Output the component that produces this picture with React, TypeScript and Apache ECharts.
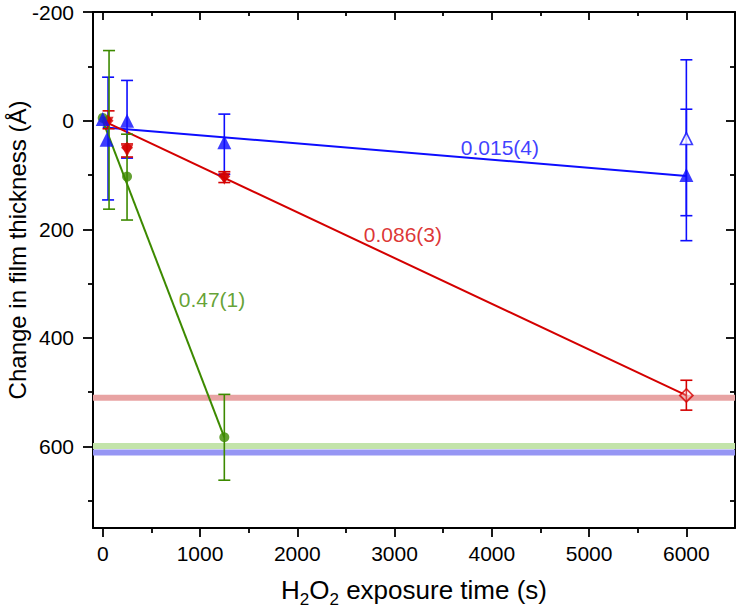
import React, { useEffect, useRef } from "react";
import * as echarts from "echarts";

// ---- axis settings ----
const X_MIN = -100;
const X_MAX = 6500;
const Y_MIN = -200;
const Y_MAX = 750;
const xMajorTicks = [0, 1000, 2000, 3000, 4000, 5000, 6000];
const xMinorTicks = [500, 1500, 2500, 3500, 4500, 5500];
const yMajorTicks = [-200, 0, 200, 400, 600];
const yMinorTicks = [-100, 100, 300, 500, 700];
const yTitle = "Change in film thickness (Å)";

// ---- reference levels (horizontal bands) ----
const bandNames = ["red", "green", "blue"];
const bandLevels = [510, 599, 611];

// ---- fitted lines ----
const blueFitX = [0, 6000];
const blueFitY = [12, 102];
const redFitX = [0, 6000];
const redFitY = [0, 506];
const greenFitX = [0, 1250];
const greenFitY = [0, 583];

// ---- fit labels ----
const fitLabels = ["0.015(4)", "0.086(3)", "0.47(1)"];
const fitLabelX = [4083, 3086, 1123];
const fitLabelY = [50, 210, 330];

// ---- markers ----
const blueFilledX = [0, 40, 250, 1250, 6000];
const blueFilledY = [-3, 35, 0, 40, 100];
const blueOpenX = [6000];
const blueOpenY = [33];

const redDiamondX = [50, 250, 1250];
const redDiamondY = [0, 50, 103];
const redTriX = [50, 250, 1250];
const redTriY = [4, 56, 107];
const redOpenX = [6000];
const redOpenY = [506];

const greenX = [0, 250, 1250];
const greenY = [-5, 103, 583];

// ---- error bars ----
const blueErrX = [55, 250, 1250, 6000, 6000];
const blueErrLo = [-80, -74, -12, -21, -112];
const blueErrHi = [146, 69, 99, 221, 175];
const redErrX = [60, 250, 1250, 6000];
const redErrLo = [-18, 43, 94, 478];
const redErrHi = [15, 67, 114, 533];
const greenErrX = [65, 250, 1250];
const greenErrLo = [-129, 25, 504];
const greenErrHi = [163, 183, 662];

const BLUE = "#0d0dff";
const RED = "#d40000";
const GREEN = "#3d8a00";
const bandColors: Record<string, string> = {
  red: "#e8a3a3",
  green: "#c3e4aa",
  blue: "#9696f4",
};
const FONT = "'Liberation Sans', Arial, sans-serif";

const zip = (xs: number[], ys: number[]) => xs.map((x, i) => [x, ys[i]]);
const zip3 = (xs: number[], a: number[], b: number[]) => xs.map((x, i) => [x, a[i], b[i]]);

function errorSeries(data: number[][], color: string) {
  return {
    type: "custom",
    z: 3,
    xAxisIndex: 0,
    yAxisIndex: 0,
    encode: { x: 0, y: [1, 2] },
    data,
    renderItem: (_p: any, api: any) => {
      const x = api.value(0);
      const lo = api.coord([x, api.value(1)]);
      const hi = api.coord([x, api.value(2)]);
      const cap = 6;
      const style = { stroke: color, lineWidth: 1.6, fill: "none" };
      return {
        type: "group",
        children: [
          { type: "line", shape: { x1: lo[0], y1: lo[1], x2: hi[0], y2: hi[1] }, style },
          { type: "line", shape: { x1: lo[0] - cap, y1: lo[1], x2: lo[0] + cap, y2: lo[1] }, style },
          { type: "line", shape: { x1: hi[0] - cap, y1: hi[1], x2: hi[0] + cap, y2: hi[1] }, style },
        ],
      };
    },
  };
}

const plainNum = (v: number) => String(v);

function xAxisCfg(position: string, ticks: number[], len: number, inside: boolean, labels: boolean, line: boolean, name?: any) {
  return {
    type: "value",
    position,
    min: X_MIN,
    max: X_MAX,
    axisLine: { show: line, onZero: false, lineStyle: { color: "#000", width: 2 } },
    axisTick: { show: true, inside, length: len, customValues: ticks, lineStyle: { color: "#000", width: 1.8 } },
    axisLabel: labels
      ? { show: true, customValues: ticks, formatter: plainNum, margin: 15, color: "#000", fontSize: 21, fontFamily: FONT }
      : { show: false },
    splitLine: { show: false },
    ...(name || {}),
  };
}

function yAxisCfg(position: string, ticks: number[], len: number, inside: boolean, labels: boolean, line: boolean) {
  return {
    type: "value",
    position,
    inverse: true,
    min: Y_MIN,
    max: Y_MAX,
    axisLine: { show: line, onZero: false, lineStyle: { color: "#000", width: 2 } },
    axisTick: { show: true, inside, length: len, customValues: ticks, lineStyle: { color: "#000", width: 1.8 } },
    axisLabel: labels
      ? { show: true, customValues: ticks, formatter: plainNum, margin: 19, color: "#000", fontSize: 21, fontFamily: FONT }
      : { show: false },
    splitLine: { show: false },
  };
}

export default function App() {
  const ref = useRef<HTMLDivElement>(null);
  useEffect(() => {
    if (!ref.current) return;
    const chart = echarts.init(ref.current, undefined, { renderer: "svg" });
    const option: any = {
      animation: false,
      backgroundColor: "#fff",
      textStyle: { fontFamily: FONT },
      grid: { left: 93, right: 4, top: 12, bottom: 86, containLabel: false, outerBoundsMode: "none" },
      graphic: [
        {
          type: "text",
          x: 17,
          y: 250,
          rotation: Math.PI / 2,
          style: {
            text: yTitle,
            fill: "#000",
            fontSize: 24,
            fontFamily: FONT,
            align: "center",
            verticalAlign: "middle",
          },
        },
      ],
      xAxis: [
        xAxisCfg("bottom", xMajorTicks, 9, false, true, true, {
          name: "{a|H}{s|2}{a|O}{s|2}{a| exposure time (s)}",
          nameLocation: "middle",
          nameGap: 49,
          nameTextStyle: {
            color: "#000",
            rich: {
              a: { fontSize: 26, fontFamily: FONT, color: "#000", lineHeight: 31, verticalAlign: "top" },
              s: { fontSize: 17, fontFamily: FONT, color: "#000", lineHeight: 16, verticalAlign: "bottom" },
            },
          },
        }),
        xAxisCfg("bottom", xMinorTicks, 5, false, false, false),
        xAxisCfg("top", xMajorTicks, 8, true, false, true),
        xAxisCfg("top", xMinorTicks, 4, true, false, false),
      ],
      yAxis: [
        yAxisCfg("left", yMajorTicks, 10, false, true, true),
        yAxisCfg("left", yMinorTicks, 5, false, false, false),
        yAxisCfg("right", yMajorTicks, 9, true, false, true),
        yAxisCfg("right", yMinorTicks, 5, true, false, false),
      ],
      series: [
        ...bandNames.map((n, i) => ({
          name: n + " level",
          type: "line",
          z: 1,
          silent: true,
          symbol: "none",
          data: [
            [X_MIN, bandLevels[i]],
            [X_MAX, bandLevels[i]],
          ],
          lineStyle: { color: bandColors[n], width: 6 },
        })),
        {
          type: "line", z: 2, symbol: "none", data: zip(blueFitX, blueFitY),
          lineStyle: { color: BLUE, width: 2 },
        },
        {
          type: "line", z: 2, symbol: "none", data: zip(redFitX, redFitY),
          lineStyle: { color: RED, width: 2 },
        },
        {
          type: "line", z: 2, symbol: "none", data: zip(greenFitX, greenFitY),
          lineStyle: { color: GREEN, width: 2 },
        },
        errorSeries(zip3(blueErrX, blueErrLo, blueErrHi), BLUE),
        errorSeries(zip3(redErrX, redErrLo, redErrHi), RED),
        errorSeries(zip3(greenErrX, greenErrLo, greenErrHi), GREEN),
        {
          type: "scatter", z: 4, symbol: "diamond", symbolSize: 12,
          data: zip(redDiamondX, redDiamondY), itemStyle: { color: RED },
        },
        {
          type: "scatter", z: 4, symbol: "triangle", symbolRotate: 180, symbolSize: 12,
          data: zip(redTriX, redTriY), itemStyle: { color: RED },
        },
        {
          type: "scatter", z: 4, symbol: "diamond", symbolSize: 13,
          data: zip(redOpenX, redOpenY),
          itemStyle: { color: "rgba(255,255,255,0.3)", borderColor: RED, borderWidth: 1.8 },
        },
        {
          type: "scatter", z: 4, symbol: "circle", symbolSize: 10,
          data: zip(greenX, greenY), itemStyle: { color: GREEN },
        },
        {
          type: "scatter", z: 5, symbol: "triangle", symbolSize: 14,
          data: zip(blueFilledX, blueFilledY), itemStyle: { color: BLUE },
        },
        {
          type: "scatter", z: 5, symbol: "triangle", symbolSize: 12,
          data: zip(blueOpenX, blueOpenY),
          itemStyle: { color: "#fff", borderColor: BLUE, borderWidth: 1.6 },
        },
        {
          type: "scatter", z: 6, symbolSize: 0, silent: true,
          data: fitLabels.map((t, i) => ({
            value: [fitLabelX[i], fitLabelY[i]],
            label: {
              show: true,
              position: "inside",
              formatter: t,
              fontSize: 21,
              fontFamily: FONT,
              color: [BLUE, RED, GREEN][i],
            },
          })),
        },
      ],
    };
    chart.setOption(option);
    return () => chart.dispose();
  }, []);
  return (
    <div
      ref={ref}
      style={{ position: "absolute", left: 0, top: 0, width: 739, height: 614, background: "#fff" }}
    />
  );
}
